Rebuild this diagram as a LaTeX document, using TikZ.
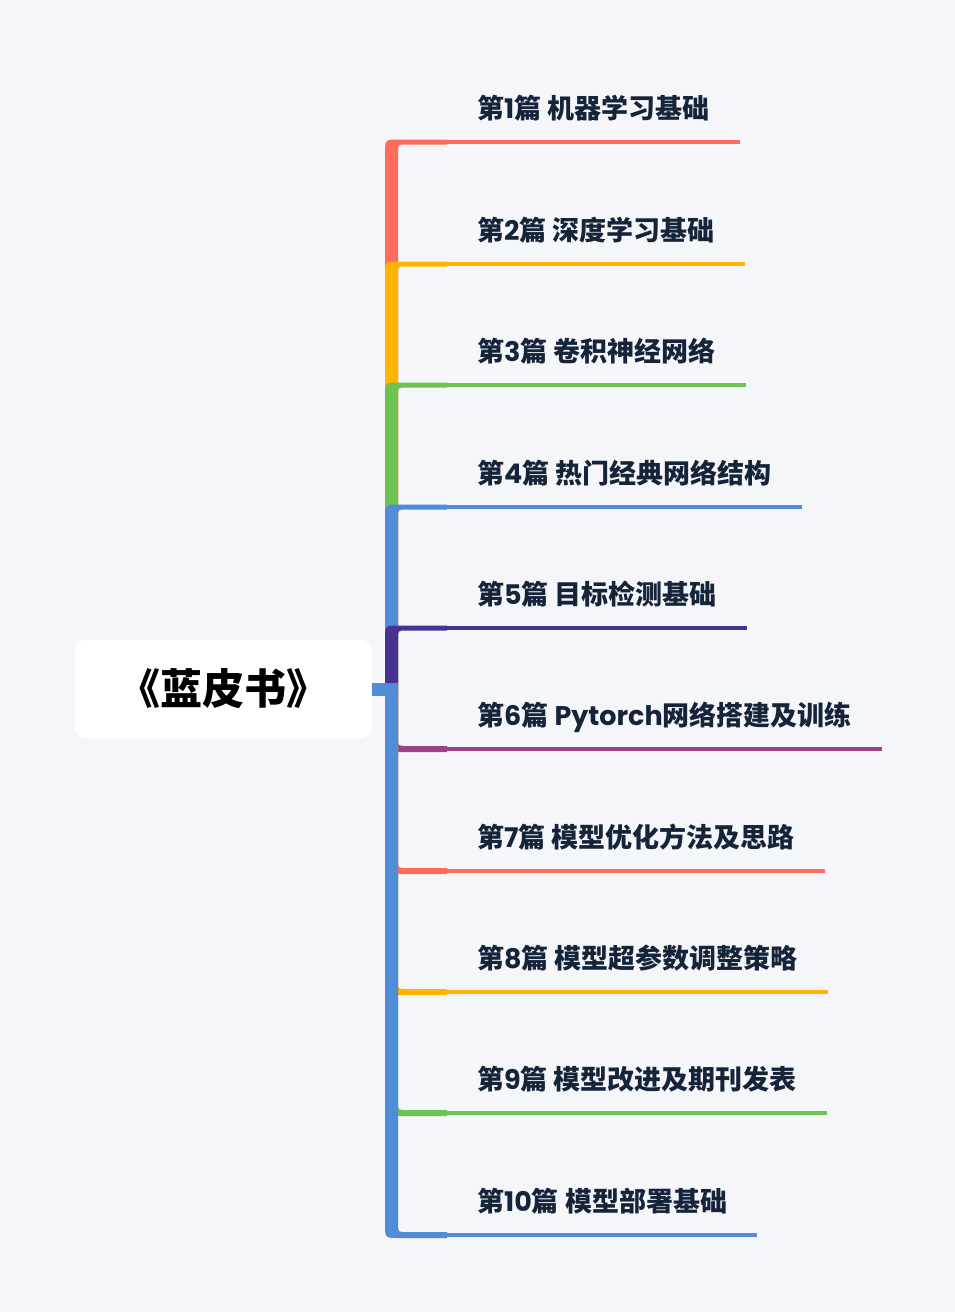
\documentclass[tikz,border=0pt]{standalone}
\usepackage{fontspec}
\setmainfont{Noto Sans CJK SC}
\newfontfamily\latfont{Poppins}
\newcommand{\lat}[1]{{\latfont #1}}
\usepackage{tikz}
\usetikzlibrary{positioning}

\definecolor{bgcol}{RGB}{245,246,250}
\definecolor{mmred}{RGB}{255,108,92}
\definecolor{mmorange}{RGB}{255,180,0}
\definecolor{mmgreen}{RGB}{110,194,84}
\definecolor{mmblue}{RGB}{80,140,216}
\definecolor{mmpurple}{RGB}{72,50,145}
\definecolor{mmmagenta}{RGB}{156,66,136}
\definecolor{txtcol}{RGB}{22,36,58}

\begin{document}
\begin{tikzpicture}[
    x=1pt, y=-1pt,
    rootbox/.style={
        rectangle,
        rounded corners=10pt,
        fill=white,
        minimum width=297pt,
        minimum height=98pt,
        font=\fontsize{42}{46}\selectfont\bfseries
    },
    topic/.style={
        anchor=south west,
        inner xsep=30pt,
        inner ysep=0pt,
        text depth=23pt,
        text=txtcol,
        font=\fontsize{27}{32}\selectfont\bfseries
    },
    tail/.style={line width=3.2pt}
]

\path[fill=bgcol, use as bounding box] (0,0) rectangle (955,1312);

\node[rootbox] (root) at (223.5,689) {《蓝皮书》};

% topics
\node[topic] (t1) at (447,142) {第\lat{1}篇 机器学习基础};
\node[topic] (t2) at (447,264) {第\lat{2}篇 深度学习基础};
\node[topic] (t3) at (447,385) {第\lat{3}篇 卷积神经网络};
\node[topic] (t4) at (447,507) {第\lat{4}篇 热门经典网络结构};
\node[topic] (t5) at (447,628) {第\lat{5}篇 目标检测基础};
\node[topic] (t6) at (447,749) {第\lat{6}篇 \lat{Pytorch}网络搭建及训练};
\node[topic] (t7) at (447,871) {第\lat{7}篇 模型优化方法及思路};
\node[topic] (t8) at (447,992) {第\lat{8}篇 模型超参数调整策略};
\node[topic] (t9) at (447,1113) {第\lat{9}篇 模型改进及期刊发表};
\node[topic] (t10) at (447,1235) {第\lat{10}篇 模型部署基础};

% branches above the root
\fill[mmred] (385,689) -- (385,153.5) .. controls (385,139.5) .. (399,139.5) -- (447,139.5) -- (447,144.5) -- (406,144.5) .. controls (398,144.5) .. (398,152.5) -- (398,689) -- cycle;
\fill[mmorange] (385,689) -- (385,275.5) .. controls (385,261.5) .. (399,261.5) -- (447,261.5) -- (447,266.5) -- (406,266.5) .. controls (398,266.5) .. (398,274.5) -- (398,689) -- cycle;
\fill[mmgreen] (385,689) -- (385,396.5) .. controls (385,382.5) .. (399,382.5) -- (447,382.5) -- (447,387.5) -- (406,387.5) .. controls (398,387.5) .. (398,395.5) -- (398,689) -- cycle;
\fill[mmblue] (385,689) -- (385,518.5) .. controls (385,504.5) .. (399,504.5) -- (447,504.5) -- (447,509.5) -- (406,509.5) .. controls (398,509.5) .. (398,517.5) -- (398,689) -- cycle;
\fill[mmpurple] (385,689) -- (385,639.5) .. controls (385,625.5) .. (399,625.5) -- (447,625.5) -- (447,630.5) -- (406,630.5) .. controls (398,630.5) .. (398,638.5) -- (398,689) -- cycle;

% branches below the root
\fill[mmmagenta] (385,689) -- (385,738) .. controls (385,752) .. (399,752) -- (447,752) -- (447,746) -- (406,746) .. controls (398,746) .. (398,738) -- (398,689) -- cycle;
\fill[mmred] (385,689) -- (385,860) .. controls (385,874) .. (399,874) -- (447,874) -- (447,868) -- (406,868) .. controls (398,868) .. (398,860) -- (398,689) -- cycle;
\fill[mmorange] (385,689) -- (385,981) .. controls (385,995) .. (399,995) -- (447,995) -- (447,989) -- (406,989) .. controls (398,989) .. (398,981) -- (398,689) -- cycle;
\fill[mmgreen] (385,689) -- (385,1102) .. controls (385,1116) .. (399,1116) -- (447,1116) -- (447,1110) -- (406,1110) .. controls (398,1110) .. (398,1102) -- (398,689) -- cycle;
\fill[mmblue] (385,689) -- (385,1224) .. controls (385,1238) .. (399,1238) -- (447,1238) -- (447,1232) -- (406,1232) .. controls (398,1232) .. (398,1224) -- (398,689) -- cycle;

\fill[mmblue] ([yshift=6.5pt]root.east) rectangle (398,695.5);

% underlines
\draw[tail, mmred] (t1.south west) -- (t1.south east);
\draw[tail, mmorange] (t2.south west) -- (t2.south east);
\draw[tail, mmgreen] (t3.south west) -- (t3.south east);
\draw[tail, mmblue] (t4.south west) -- (t4.south east);
\draw[tail, mmpurple] (t5.south west) -- (t5.south east);
\draw[tail, mmmagenta] (t6.south west) -- (t6.south east);
\draw[tail, mmred] (t7.south west) -- (t7.south east);
\draw[tail, mmorange] (t8.south west) -- (t8.south east);
\draw[tail, mmgreen] (t9.south west) -- (t9.south east);
\draw[tail, mmblue] (t10.south west) -- (t10.south east);

\end{tikzpicture}
\end{document}
